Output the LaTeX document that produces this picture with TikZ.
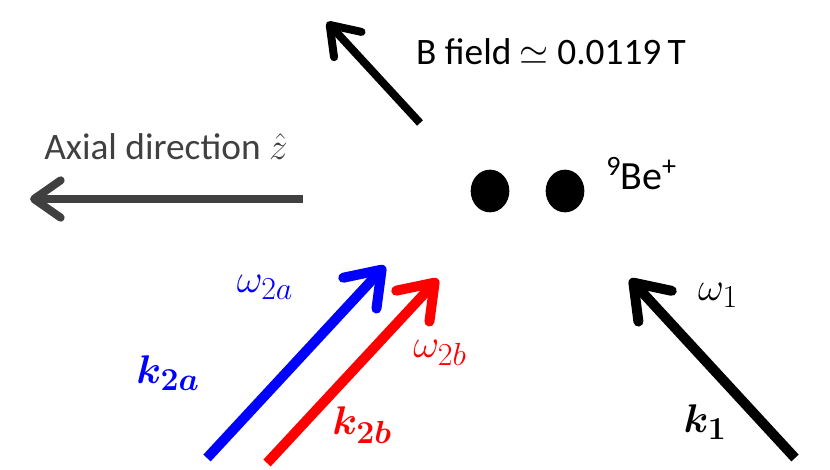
\RequirePackage{fix-cm}
\documentclass[tikz,border=0pt]{standalone}
\usepackage{amsmath,amssymb,bm}
\usepackage{fontspec}
\setmainfont{Carlito}
\usetikzlibrary{arrows.meta,shapes.geometric}

\DeclareMathSizes{30}{30}{24}{18}
\definecolor{axisgray}{RGB}{64,64,64}

\begin{document}
\begin{tikzpicture}[x=0.75pt,y=-0.75pt,
  every node/.style={font=\fontsize{28}{32}\selectfont,inner sep=0pt},
  beam/.style={line width=7.5pt,-{Straight Barb[length=24pt,width=34pt,round]}},
  guide/.style={line width=6pt,-{Straight Barb[length=20pt,width=28pt,round]}},
  ion/.style={ellipse,fill=black,minimum width=29pt,minimum height=32pt},
  mlabel/.style={font=\fontsize{30}{34}\selectfont}]

        \useasboundingbox (0,0) rectangle (830,470);

        % field and trap axis
        \coordinate (Btail) at (420,123);
        \coordinate (Btip) at (327,22);
        \draw[guide] (Btail) -- (Btip);
        \node (bfield) at (551,52) {B field $\simeq$ 0.0119\,T};

        \coordinate (Ztail) at (303,199);
        \coordinate (Ztip) at (30,199);
        \draw[guide,axisgray] (Ztail) -- (Ztip);
        \node[text=axisgray] (axial) at (166,147) {Axial direction $\hat{z}$};

        % ions
        \node[ion] (ionA) at (490,191) {};
        \node[ion] (ionB) at (565,191) {};
        \node[anchor=base west,font=\fontsize{30}{34}\selectfont] (be) at (606,190)
          {\raisebox{11pt}{\fontsize{21}{24}\selectfont 9}Be\raisebox{11pt}{\fontsize{21}{24}\selectfont +}};

        % Raman beams
        \coordinate (k2atail) at (207,458);
        \coordinate (k2atip) at (385,266);
        \draw[beam,blue] (k2atail) -- (k2atip);
        \node[mlabel,text=blue] (w2a) at (265,287) {$\omega_{2a}$};
        \node[mlabel,text=blue] (k2a) at (168,373) {$\bm{k_{2a}}$};

        \coordinate (k2btail) at (267,463);
        \coordinate (k2btip) at (438,279);
        \draw[beam,red] (k2btail) -- (k2btip);
        \node[mlabel,text=red] (w2b) at (440,353) {$\omega_{2b}$};
        \node[mlabel,text=red] (k2b) at (362,425) {$\bm{k_{2b}}$};

        \coordinate (k1tail) at (795,458);
        \coordinate (k1tip) at (630,279);
        \draw[beam] (k1tail) -- (k1tip);
        \node[mlabel] (w1) at (718,295) {$\omega_1$};
        \node[mlabel] (k1) at (705,422) {$\bm{k_1}$};
      \end{tikzpicture}
\end{document}
